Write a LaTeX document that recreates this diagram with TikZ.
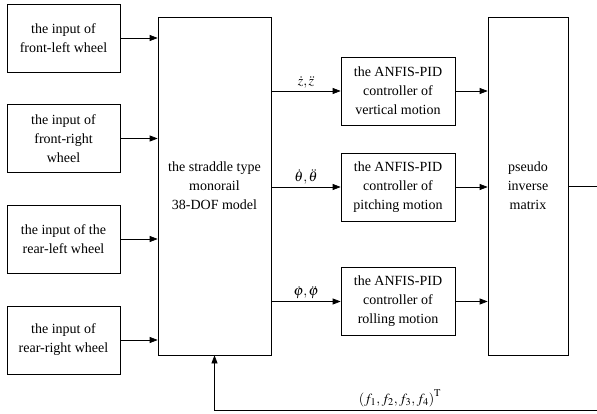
\documentclass[tikz,border=0pt]{standalone}
\usepackage{amsmath}
\usepackage{mathptmx}
\usepackage{fontspec}
\setmainfont{Liberation Serif}
\usetikzlibrary{arrows.meta,positioning}

\begin{document}
\begin{tikzpicture}[x=1pt, y=-1pt,
  caixa/.style={draw, line width=0.7pt, align=center, inner sep=2pt,
                font=\fontsize{14}{19}\selectfont},
  entrada/.style={caixa, minimum width=113pt, minimum height=68pt},
  ctrl/.style={caixa, minimum width=114pt, minimum height=68pt},
  alto/.style={caixa, minimum height=338pt},
  rotulo/.style={font=\fontsize{14}{16}\selectfont, inner sep=2pt},
  seta/.style={-{Triangle[length=8pt,width=6pt]}, line width=0.7pt}
]
\useasboundingbox (0,0) rectangle (597,414);
% entradas das rodas
\node[entrada] (in1) at (63.5,38)    {the input of\\front-left wheel};
\node[entrada] (in2) at (63.5,138.5) {the input of\\front-right\\wheel};
\node[entrada] (in3) at (63.5,239)   {the input of the\\rear-left wheel};
\node[entrada] (in4) at (63.5,340)   {the input of\\rear-right wheel};
% modelo e matriz
\node[alto, minimum width=113pt] (model) at (214.5,186) {the straddle type\\monorail\\38-DOF model};
\node[alto, minimum width=80pt]  (pinv)  at (528,186)   {pseudo\\inverse\\matrix};
% controladores
\node[ctrl] (c1) at (398,91)    {the ANFIS-PID\\controller of\\vertical motion};
\node[ctrl] (c2) at (398,187)   {the ANFIS-PID\\controller of\\pitching motion};
\node[ctrl] (c3) at (398,301.5) {the ANFIS-PID\\controller of\\rolling motion};
\coordinate (out) at (597,186);
\coordinate (fb)  at (597,410);
\draw[seta] (in1.east) -- (in1.east -| model.west);
\draw[seta] (in2.east) -- (in2.east -| model.west);
\draw[seta] (in3.east) -- (in3.east -| model.west);
\draw[seta] (in4.east) -- (in4.east -| model.west);
\draw[seta] (c1.west -| model.east) -- node[rotulo, above] {$\dot{z},\ddot{z}$} (c1.west);
\draw[seta] (c2.west -| model.east) -- node[rotulo, above] {$\dot{\theta},\ddot{\theta}$} (c2.west);
\draw[seta] (c3.west -| model.east) -- node[rotulo, above] {$\dot{\varphi},\ddot{\varphi}$} (c3.west);
\draw[seta] (c1.east) -- (c1.east -| pinv.west);
\draw[seta] (c2.east) -- (c2.east -| pinv.west);
\draw[seta] (c3.east) -- (c3.east -| pinv.west);
\draw[line width=0.7pt] (pinv.east) -- (out);
\draw[seta] (fb) -| (model.south);
\node[rotulo, anchor=south] (flabel) at (400,409) {$\left(f_1,f_2,f_3,f_4\right)^{\mathrm{T}}$};
\end{tikzpicture}
\end{document}
